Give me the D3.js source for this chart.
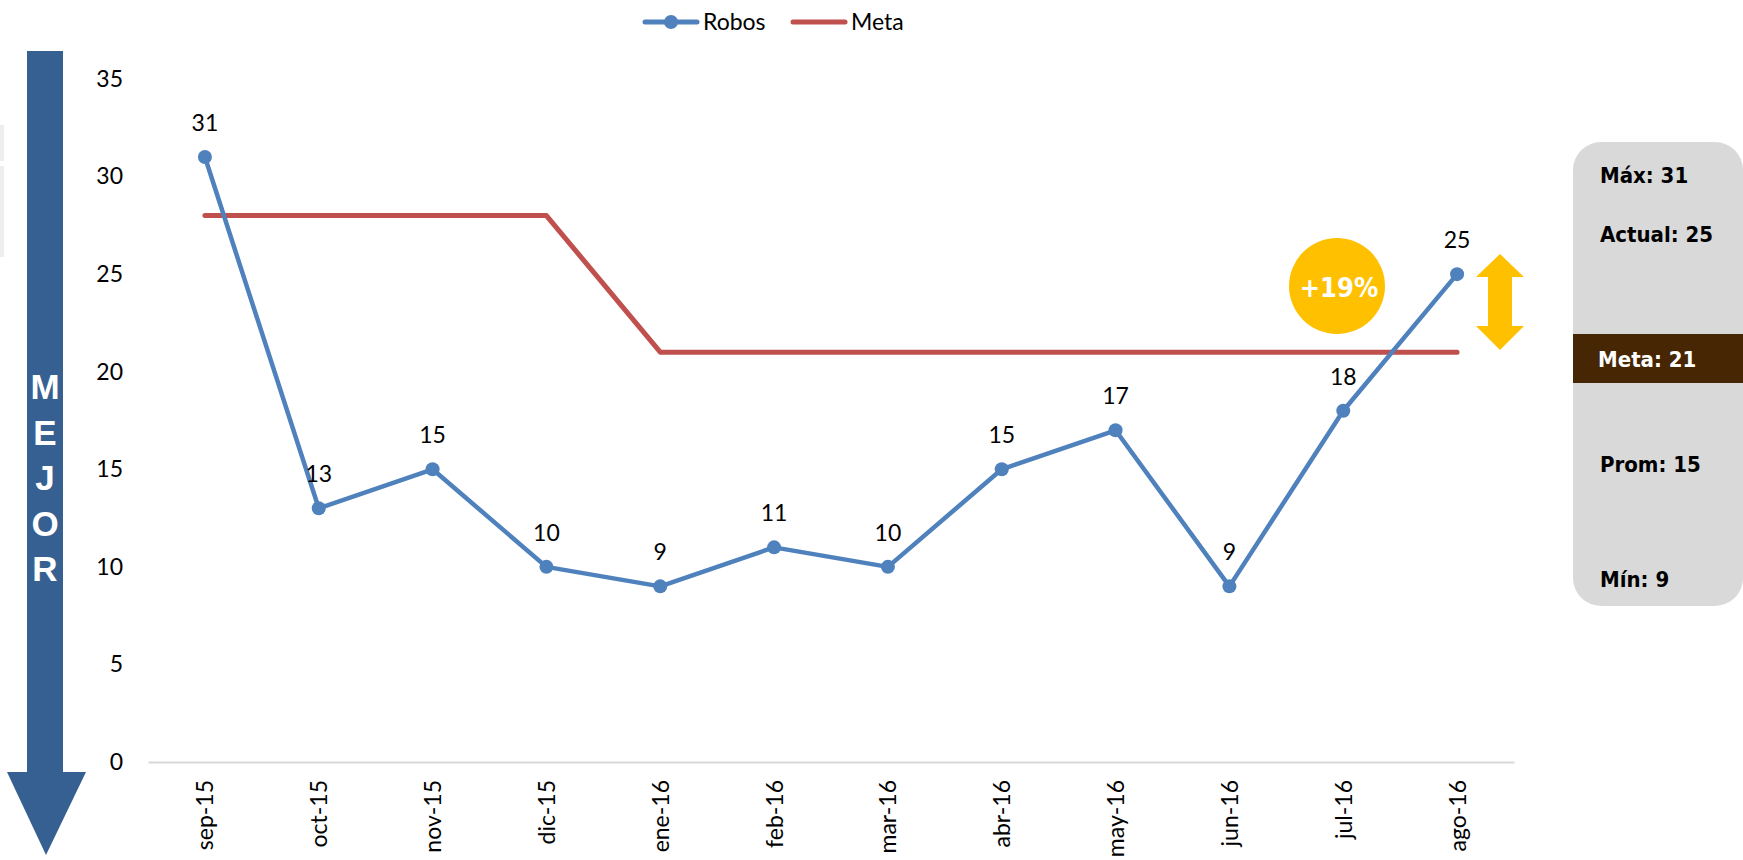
<!doctype html>
<html>
<head>
    <title>Robos vs Meta</title>
    <script src="https://d3js.org/d3.v7.min.js"></script>
    <style>
        body { margin: 0; background: #fff; }
        svg { display: block; }
    </style>
</head>
<body>
<svg width="1743" height="860"></svg>
<script>
    // data
    var months = ["sep-15", "oct-15", "nov-15", "dic-15", "ene-16", "feb-16",
                  "mar-16", "abr-16", "may-16", "jun-16", "jul-16", "ago-16"];
    var robos = [31, 13, 15, 10, 9, 11, 10, 15, 17, 9, 18, 25];
    var meta = [28, 28, 28, 28, 21, 21, 21, 21, 21, 21, 21, 21];
    var yTicks = [0, 5, 10, 15, 20, 25, 30, 35];
    var resumen = [
        { label: "Máx: 31", y: 183 },
        { label: "Actual: 25", y: 242 },
        { label: "Prom: 15", y: 472 },
        { label: "Mín: 9", y: 587 }
    ];
    var metaLabel = "Meta: 21";
    var cambio = "+19%";

    var svg = d3.select("svg");
    var font = "Lato, 'Open Sans', sans-serif";
    var blue = "#4F81BD", red = "#C0504D", gold = "#FFC000";

    var x = d3.scalePoint().domain(months).range([148, 1514]).padding(0.5);
    var y = d3.scaleLinear().domain([0, 35]).range([762, 79]);

    // faint leftover shape at the very left edge
    svg.append("rect").attr("x", 0).attr("y", 125).attr("width", 4).attr("height", 36).attr("fill", "#eeeeee");
    svg.append("rect").attr("x", 0).attr("y", 166).attr("width", 4).attr("height", 91).attr("fill", "#eeeeee");

    // "MEJOR" arrow pointing down
    svg.append("path")
        .attr("d", "M27,51 L63,51 L63,772 L86,772 L46,855 L7,772 L27,772 Z")
        .attr("fill", "#376092");
    svg.append("g").selectAll("text")
        .data("MEJOR".split(""))
        .enter().append("text")
        .attr("x", 45)
        .attr("y", function(d, i) { return 399 + i * 45.5; })
        .attr("text-anchor", "middle")
        .attr("fill", "#fff")
        .style("font-family", "'Liberation Sans', Arial, sans-serif")
        .style("font-weight", "bold")
        .style("font-size", "35px")
        .text(function(d) { return d; });

    // y axis (labels only)
    var yAxis = svg.append("g")
        .attr("transform", "translate(123,0)")
        .call(d3.axisLeft(y).tickValues(yTicks).tickSize(0).tickPadding(0));
    yAxis.select(".domain").remove();
    yAxis.selectAll("text")
        .style("font-family", font)
        .style("font-size", "23px")
        .attr("fill", "#000");

    // x axis
    var xAxis = svg.append("g")
        .attr("transform", "translate(0," + y(0) + ")")
        .call(d3.axisBottom(x).tickSize(0));
    xAxis.select(".domain").attr("stroke", "#d9d9d9").attr("stroke-width", 2);
    xAxis.selectAll("text")
        .attr("transform", "rotate(-90)")
        .attr("text-anchor", "end")
        .attr("x", -18)
        .attr("y", 0)
        .attr("dy", "0.35em")
        .attr("fill", "#000")
        .style("font-family", font)
        .style("font-size", "23px");

    // Meta line
    var line = d3.line()
        .x(function(d, i) { return x(months[i]); })
        .y(function(d) { return y(d); });

    svg.append("path")
        .datum(meta)
        .attr("d", line)
        .attr("fill", "none")
        .attr("stroke", red)
        .attr("stroke-width", 5)
        .attr("stroke-linecap", "round")
        .attr("stroke-linejoin", "round");

    // Robos line + markers
    svg.append("path")
        .datum(robos)
        .attr("d", line)
        .attr("fill", "none")
        .attr("stroke", blue)
        .attr("stroke-width", 4.5)
        .attr("stroke-linejoin", "round");

    svg.append("g").selectAll("circle")
        .data(robos)
        .enter().append("circle")
        .attr("cx", function(d, i) { return x(months[i]); })
        .attr("cy", function(d) { return y(d); })
        .attr("r", 7)
        .attr("fill", blue);

    svg.append("g").selectAll("text")
        .data(robos)
        .enter().append("text")
        .attr("x", function(d, i) { return x(months[i]); })
        .attr("y", function(d) { return y(d) - 26; })
        .attr("text-anchor", "middle")
        .attr("fill", "#000")
        .style("font-family", font)
        .style("font-size", "23px")
        .text(function(d) { return d; });

    // legend
    var legend = svg.append("g");
    legend.append("line").attr("x1", 645).attr("x2", 697).attr("y1", 22).attr("y2", 22)
        .attr("stroke", blue).attr("stroke-width", 5).attr("stroke-linecap", "round");
    legend.append("circle").attr("cx", 671).attr("cy", 22).attr("r", 7).attr("fill", blue);
    legend.append("text").attr("x", 703).attr("y", 30).text("Robos")
        .style("font-family", font).style("font-size", "23px");
    legend.append("line").attr("x1", 793).attr("x2", 845).attr("y1", 22).attr("y2", 22)
        .attr("stroke", red).attr("stroke-width", 5).attr("stroke-linecap", "round");
    legend.append("text").attr("x", 851).attr("y", 30).text("Meta")
        .style("font-family", font).style("font-size", "23px");

    // +19% badge
    var panelFont = "Tahoma, 'DejaVu Sans Condensed', 'DejaVu Sans', sans-serif";
    svg.append("circle").attr("cx", 1337).attr("cy", 286).attr("r", 48).attr("fill", gold);
    svg.append("text").attr("x", 1339).attr("y", 297).attr("text-anchor", "middle")
        .attr("fill", "#fff")
        .style("font-family", panelFont)
        .style("font-weight", "bold")
        .style("font-size", "27px")
        .text(cambio);

    // double arrow
    svg.append("path")
        .attr("d", "M1500,254 L1524,277 L1512,277 L1512,326 L1524,326 L1500,350 L1476,326 L1488,326 L1488,277 L1476,277 Z")
        .attr("fill", gold);

    // summary panel
    svg.append("rect")
        .attr("x", 1573).attr("y", 142).attr("width", 170).attr("height", 464)
        .attr("rx", 28).attr("fill", "#d9d9d9");
    svg.append("rect")
        .attr("x", 1573).attr("y", 334).attr("width", 170).attr("height", 49)
        .attr("fill", "#472604");
    svg.append("text").attr("x", 1598).attr("y", 367).attr("fill", "#fff")
        .style("font-family", panelFont).style("font-weight", "bold").style("font-size", "22px")
        .text(metaLabel);
    svg.append("g").selectAll("text")
        .data(resumen)
        .enter().append("text")
        .attr("x", 1600)
        .attr("y", function(d) { return d.y; })
        .attr("fill", "#000")
        .style("font-family", panelFont)
        .style("font-weight", "bold")
        .style("font-size", "22px")
        .text(function(d) { return d.label; });
</script>
</body>
</html>
